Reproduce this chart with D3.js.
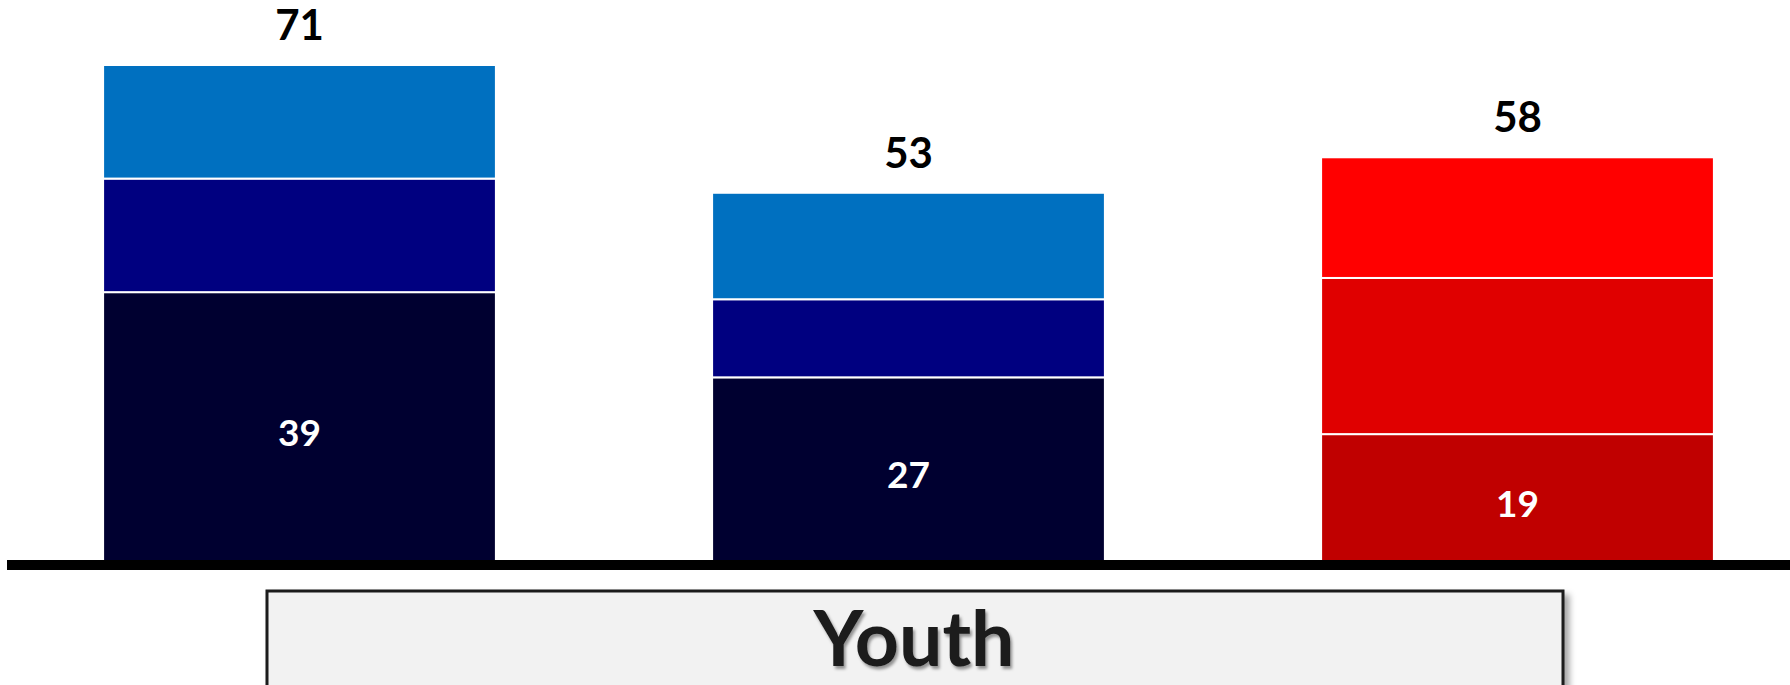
<!DOCTYPE html>
<html>
<head>
<meta charset="utf-8">
<script src="https://cdn.jsdelivr.net/npm/d3@7"></script>
<style>
  body { margin: 0; background: #fff; }
  svg { display: block; font-family: Lato, "Open Sans", sans-serif; }
</style>
</head>
<body>
<div id="plot"></div>
<script>
// Values
const groups = ["Group 1", "Group 2", "Group 3"];
const bottomValues = [39, 27, 19];
const middleValues = [16, 11, 22];
const topValues = [16, 15, 17];
const categoryLabel = "Youth";

// Colours, bottom to top, for each group
const bluePalette = ["#000030", "#000080", "#0070C0"];
const redPalette = ["#C00000", "#E00000", "#FF0000"];
const palettes = [bluePalette, bluePalette, redPalette];

const width = 1790;
const height = 685;

const svg = d3.select("#plot")
  .append("svg")
  .attr("width", width)
  .attr("height", height);

const defs = svg.append("defs");
const boxShadow = defs.append("filter")
  .attr("id", "boxShadow")
  .attr("x", "-5%").attr("y", "-20%")
  .attr("width", "115%").attr("height", "150%");
boxShadow.append("feDropShadow")
  .attr("dx", 5).attr("dy", 5)
  .attr("stdDeviation", 3)
  .attr("flood-color", "#000")
  .attr("flood-opacity", 0.35);

const textShadow = defs.append("filter")
  .attr("id", "textShadow")
  .attr("x", "-10%").attr("y", "-10%")
  .attr("width", "130%").attr("height", "140%");
textShadow.append("feDropShadow")
  .attr("dx", 2).attr("dy", 3)
  .attr("stdDeviation", 1.5)
  .attr("flood-color", "#000")
  .attr("flood-opacity", 0.4);

// Stack the three series
const rows = groups.map((g, i) => ({
  group: g,
  bottom: bottomValues[i],
  middle: middleValues[i],
  top: topValues[i]
}));
const keys = ["bottom", "middle", "top"];
const stacked = d3.stack().keys(keys)(rows);
const totals = rows.map(d => d.bottom + d.middle + d.top);

const x = d3.scaleBand()
  .domain(groups)
  .range([-5, 1822])
  .paddingInner(0.355)
  .paddingOuter(0.1775);

// zero sits just under the base line
const y = d3.scaleLinear()
  .domain([0, d3.max(totals)])
  .range([569, 65]);

// Bars
const layers = svg.append("g")
  .selectAll("g")
  .data(stacked)
  .join("g");

layers.selectAll("rect")
  .data((layer, li) => layer.map((d, i) => ({ d, i, li })))
  .join("rect")
  .attr("x", e => x(groups[e.i]))
  .attr("width", x.bandwidth())
  .attr("y", e => y(e.d[1]))
  .attr("height", e => y(e.d[0]) - y(e.d[1]))
  .attr("fill", e => palettes[e.i][e.li])
  .attr("stroke", "#fff")
  .attr("stroke-width", 2);

// Labels inside bottom segment
svg.append("g")
  .selectAll("text")
  .data(stacked[0])
  .join("text")
  .attr("x", (d, i) => x(groups[i]) + x.bandwidth() / 2)
  .attr("y", d => (y(d[0]) + y(d[1])) / 2 + 15)
  .attr("text-anchor", "middle")
  .attr("fill", "#fff")
  .style("font-size", "37px")
  .style("font-weight", "bold")
  .text(d => d[1] - d[0]);

// Totals above the bars
svg.append("g")
  .selectAll("text")
  .data(totals)
  .join("text")
  .attr("x", (d, i) => x(groups[i]) + x.bandwidth() / 2)
  .attr("y", d => y(d) - 25)
  .attr("text-anchor", "middle")
  .attr("fill", "#000")
  .style("font-size", "42px")
  .style("font-weight", "bold")
  .text(d => d);

// Base line
svg.append("rect")
  .attr("x", 7)
  .attr("y", 560)
  .attr("width", width - 7)
  .attr("height", 10)
  .attr("fill", "#000");

// Category box
svg.append("rect")
  .attr("x", 267)
  .attr("y", 591)
  .attr("width", 1296)
  .attr("height", 130)
  .attr("fill", "#F2F2F2")
  .attr("stroke", "#1a1a1a")
  .attr("stroke-width", 3)
  .attr("filter", "url(#boxShadow)");

svg.append("text")
  .attr("x", 914)
  .attr("y", 666)
  .attr("text-anchor", "middle")
  .attr("fill", "#1a1a1a")
  .style("font-size", "77px")
  .style("font-weight", "bold")
  .attr("filter", "url(#textShadow)")
  .text(categoryLabel);
</script>
</body>
</html>
